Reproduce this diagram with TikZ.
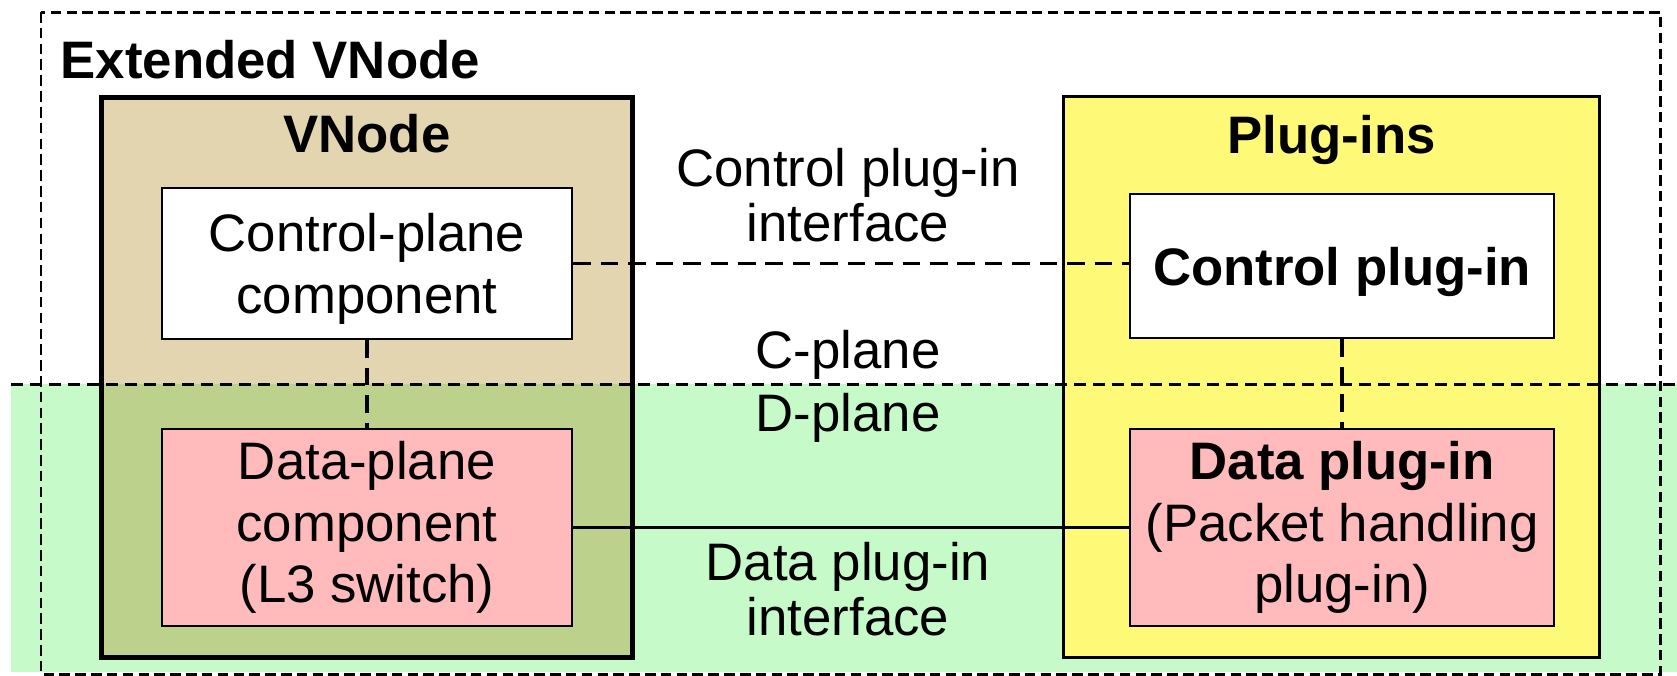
\documentclass[tikz,border=0pt]{standalone}
\usepackage{fontspec}
\setmainfont{Liberation Sans}
\usetikzlibrary{positioning}
\definecolor{dgreen}{RGB}{198,250,200}
\definecolor{vnodefill}{RGB}{170,127,15}
\definecolor{plugfill}{RGB}{255,249,120}
\definecolor{datafill}{RGB}{255,187,187}

\begin{document}
\begin{tikzpicture}[x=0.01cm, y=-0.01cm,
		every node/.style={font=\fontsize{15}{17.5}\selectfont, align=center, inner sep=0pt},
		title/.style={font=\fontsize{15}{17.5}\selectfont\bfseries, anchor=base},
		iflabel/.style={font=\fontsize{15}{15.7}\selectfont},
		group/.style={draw, minimum width=5.3cm, minimum height=5.6cm},
		comp/.style={draw, line width=0.7pt, minimum width=4.1cm},
		conn/.style={line width=1pt},
		conndash/.style={dash pattern=on 5pt off 2.8pt},
		sepline/.style={line width=0.85pt, dash pattern=on 3.4pt off 2pt},
		outerline/.style={line width=0.85pt, dash pattern=on 3pt off 1.5pt}]
	\useasboundingbox (0,0) rectangle (1677,675);
	\fill[dgreen] (11,384) rectangle (1677,672);
	\draw[outerline] (41,12) rectangle (1660,674);
	\node[title, anchor=base west] (extname) at (60,78) {Extended VNode};

	\node[group, line width=1.4pt, fill=vnodefill, fill opacity=0.33] (vnode) at (367,377.5) {};
	\node[group, line width=0.85pt, fill=plugfill, minimum width=5.35cm] (plugins) at (1331.5,377) {};
	\node[title] (vname) at (367,152) {VNode};
	\node[title] (pname) at (1331.5,153) {Plug-ins};
	\draw[sepline] (11,384) -- (1677,384);

	\node[comp, fill=white, minimum height=1.51cm, text depth=0pt] (cpc) at (367,263.5) {Control-plane\\component};
	\node[comp, fill=datafill, minimum height=1.97cm] (dpc) at (367,527.5) {Data-plane\\component\\(L3 switch)};
	\node[comp, fill=white, minimum width=4.24cm, minimum height=1.44cm, text depth=0pt,
		font=\fontsize{15}{17.5}\selectfont\bfseries] (cpi) at (1342,266) {Control plug-in};
	\node[comp, fill=datafill, minimum width=4.24cm, minimum height=1.97cm] (dpi) at (1342,527.5)
		{\textbf{Data plug-in}\\(Packet handling\\plug-in)};

	\node[iflabel] (cif) at (848,195.5) {Control plug-in\\interface};
	\node[anchor=base] (cplane) at (848,368) {C-plane};
	\node[anchor=base] (dplane) at (848,431) {D-plane};
	\node[iflabel] (dif) at (848,589.5) {Data plug-in\\interface};

	\draw[conn, conndash] (cpc.east) -- (cpc.east -| cpi.west);
	\draw[conn] (dpc.east) -- (dpi.west);
	\draw[conn, conndash] (cpc.south) -- (dpc.north);
	\draw[conn, conndash] (cpi.south) -- (dpi.north);
\end{tikzpicture}
\end{document}
